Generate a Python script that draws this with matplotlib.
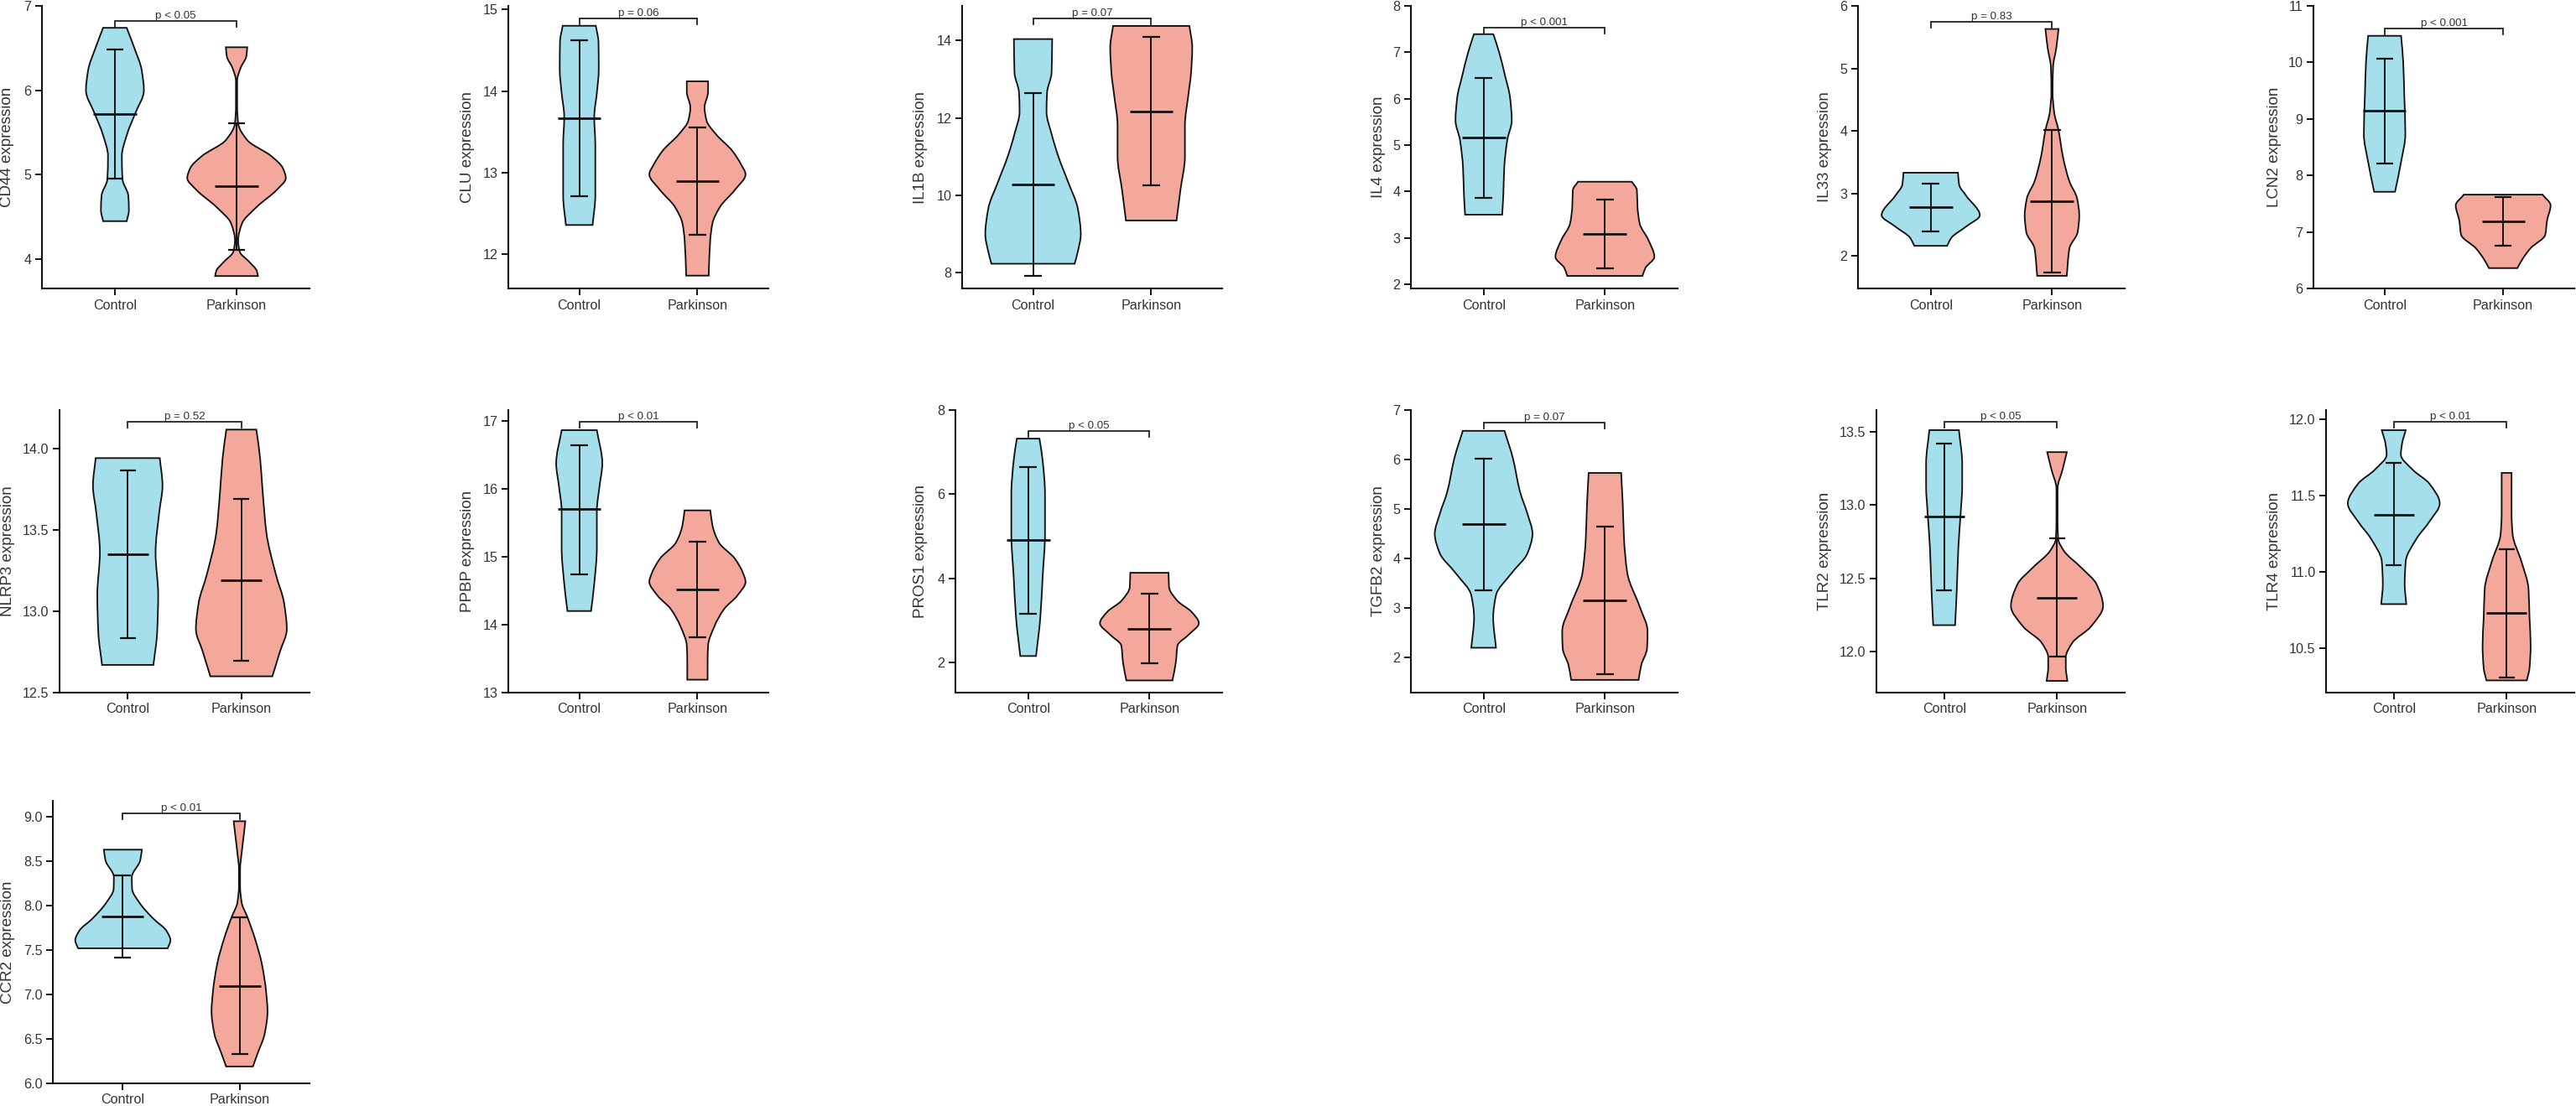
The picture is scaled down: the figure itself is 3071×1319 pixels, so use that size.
import numpy as np
import matplotlib
matplotlib.use("Agg")
import matplotlib.pyplot as plt
from matplotlib.path import Path
from matplotlib.patches import PathPatch

plt.rcParams['font.family'] = ['Liberation Sans', 'DejaVu Sans']

genes = ["CD44", "CLU", "IL1B", "IL4", "IL33", "LCN2", "NLRP3", "PPBP", "PROS1", "TGFB2", "TLR2", "TLR4", "CCR2"]
groups = ["Control", "Parkinson"]
p_labels = ["p < 0.05", "p = 0.06", "p = 0.07", "p < 0.001", "p = 0.83", "p < 0.001", "p = 0.52",
            "p < 0.01", "p < 0.05", "p = 0.07", "p < 0.05", "p < 0.01", "p < 0.01"]
bracket_y = [6.825, 14.894, 14.58, 7.537, 5.75, 10.595, 14.163, 16.98, 7.508, 6.75, 13.567, 11.985, 9.04]

# mean and +/- sd bars
ctrl_mean = [5.72, 13.67, 10.28, 5.16, 2.777, 9.14, 13.35, 15.695, 4.9, 4.69, 12.92, 11.377, 7.88]
ctrl_hi = [6.48, 14.62, 12.65, 6.454, 3.156, 10.06, 13.866, 16.64, 6.65, 6.017, 13.418, 11.714, 8.34]
ctrl_lo = [4.95, 12.71, 7.916, 3.863, 2.393, 8.21, 12.835, 14.74, 3.15, 3.36, 12.42, 11.044, 7.42]
park_mean = [4.86, 12.895, 12.17, 3.087, 2.87, 7.185, 13.19, 14.514, 2.8, 3.158, 12.368, 10.73, 7.094]
park_hi = [5.61, 13.555, 14.09, 3.827, 4.018, 7.61, 13.69, 15.214, 3.63, 4.65, 12.77, 11.148, 7.87]
park_lo = [4.11, 12.236, 10.26, 2.34, 1.73, 6.755, 12.694, 13.815, 1.98, 1.67, 11.967, 10.31, 6.327]

# violin outlines, value and half width
cd44_c_y = [6.74, 6.5, 6.24, 6.0, 5.72, 5.48, 5.22, 4.95, 4.75, 4.58, 4.45]
cd44_c_w = [.097, .16, .22, .238, .165, .10, .057, .062, .11, .115, .097]
cd44_p_y = [6.51, 6.4, 6.27, 6.11, 5.81, 5.61, 5.41, 5.22, 5.08, 4.96, 4.82, 4.62, 4.42, 4.22, 4.09, 3.96, 3.86, 3.80]
cd44_p_w = [.088, .08, .035, .005, .005, .013, .088, .286, .38, .405, .33, .167, .044, .013, .026, .11, .167, .176]
clu_c_y = [14.8, 14.6, 14.26, 13.99, 13.68, 13.34, 12.99, 12.72, 12.36]
clu_c_w = [.14, .163, .165, .15, .127, .136, .136, .136, .113]
clu_p_y = [14.12, 13.99, 13.8, 13.64, 13.47, 13.27, 13.1, 12.98, 12.79, 12.58, 12.38, 12.17, 11.74]
clu_p_w = [.09, .09, .06, .077, .158, .294, .37, .407, .317, .19, .127, .108, .095]
il1b_c_y = [14.04, 13.17, 12.66, 12.16, 11.58, 11.0, 10.35, 9.63, 8.98, 8.55, 8.22]
il1b_c_w = [.162, .157, .119, .114, .157, .214, .295, .38, .404, .38, .352]
il1b_p_y = [14.38, 13.82, 13.17, 12.59, 11.8, 11.0, 10.13, 9.34]
il1b_p_w = [.323, .347, .337, .314, .285, .285, .247, .214]
il4_c_y = [7.39, 6.98, 6.5, 6.02, 5.53, 5.11, 4.51, 3.91, 3.5]
il4_c_w = [.08, .13, .176, .218, .232, .195, .17, .162, .153]
il4_p_y = [4.21, 4.03, 3.67, 3.31, 2.95, 2.59, 2.35, 2.18]
il4_p_w = [.222, .264, .269, .287, .36, .408, .334, .31]
il33_c_y = [3.33, 3.14, 2.96, 2.65, 2.47, 2.29, 2.16]
il33_c_w = [.225, .234, .293, .405, .293, .171, .135]
il33_p_y = [5.63, 5.33, 5.02, 4.62, 4.3, 4.01, 3.59, 3.19, 2.92, 2.65, 2.38, 2.12, 1.68]
il33_p_w = [.054, .036, .009, .005, .018, .054, .09, .144, .207, .225, .212, .144, .122]
lcn2_c_y = [10.47, 10.0, 9.42, 8.73, 8.24, 7.71]
lcn2_c_w = [.139, .157, .166, .175, .139, .088]
lcn2_p_y = [7.66, 7.47, 7.2, 6.95, 6.71, 6.51, 6.36]
lcn2_p_w = [.332, .40, .37, .355, .23, .16, .12]
nlrp3_c_y = [13.94, 13.77, 13.61, 13.36, 13.1, 12.87, 12.67]
nlrp3_c_w = [.282, .306, .278, .245, .268, .259, .226]
nlrp3_p_y = [14.115, 13.94, 13.73, 13.48, 13.22, 13.05, 12.89, 12.75, 12.6]
nlrp3_p_w = [.132, .165, .188, .221, .306, .376, .40, .339, .273]
ppbp_c_y = [16.86, 16.37, 16.04, 15.67, 15.13, 14.6, 14.2]
ppbp_c_w = [.149, .195, .172, .149, .149, .127, .10]
ppbp_p_y = [15.68, 15.46, 15.21, 14.97, 14.76, 14.63, 14.43, 14.23, 13.98, 13.69, 13.44, 13.19]
ppbp_p_w = [.109, .127, .181, .317, .385, .407, .339, .226, .145, .09, .086, .086]
pros1_c_y = [7.32, 6.79, 5.99, 5.06, 4.06, 3.06, 2.15]
pros1_c_w = [.093, .12, .139, .139, .12, .10, .065]
pros1_p_y = [4.13, 3.79, 3.46, 3.2, 2.93, 2.66, 2.4, 2.0, 1.57]
pros1_p_w = [.158, .162, .232, .348, .408, .325, .232, .218, .19]
tgfb2_c_y = [6.58, 6.03, 5.35, 4.9, 4.5, 4.11, 3.71, 3.26, 2.81, 2.2]
tgfb2_c_w = [.172, .241, .30, .362, .403, .362, .232, .102, .079, .102]
tgfb2_p_y = [5.73, 5.07, 4.39, 3.71, 3.03, 2.53, 2.19, 1.85, 1.55]
tgfb2_p_w = [.134, .148, .158, .185, .287, .352, .348, .30, .278]
tlr2_c_y = [13.51, 13.28, 13.13, 12.94, 12.71, 12.42, 12.18]
tlr2_c_w = [.131, .16, .16, .146, .126, .112, .097]
tlr2_p_y = [13.36, 13.24, 13.11, 12.9, 12.77, 12.69, 12.57, 12.46, 12.31, 12.17, 12.06, 11.96, 11.89, 11.8]
tlr2_p_w = [.087, .049, .005, .005, .01, .058, .218, .35, .408, .30, .136, .078, .078, .092]
tlr4_c_y = [11.93, 11.84, 11.77, 11.67, 11.58, 11.45, 11.33, 11.22, 11.07, 10.92, 10.79]
tlr4_c_w = [.106, .073, .063, .169, .315, .407, .315, .203, .106, .097, .111]
tlr4_p_y = [11.65, 11.53, 11.38, 11.25, 11.07, 10.89, 10.7, 10.52, 10.37, 10.29]
tlr4_p_w = [.044, .044, .044, .053, .131, .194, .203, .213, .203, .179]
ccr2_c_y = [8.63, 8.51, 8.32, 8.19, 8.03, 7.85, 7.72, 7.61, 7.52]
ccr2_c_w = [.163, .149, .077, .079, .144, .264, .372, .408, .384]
ccr2_p_y = [8.95, 8.79, 8.6, 8.41, 8.22, 8.03, 7.88, 7.63, 7.34, 7.03, 6.81, 6.56, 6.34, 6.19]
ccr2_p_w = [.05, .036, .019, .005, .005, .019, .065, .132, .192, .228, .24, .216, .156, .115]

ctrl_violins = [(cd44_c_y, cd44_c_w), (clu_c_y, clu_c_w), (il1b_c_y, il1b_c_w), (il4_c_y, il4_c_w),
                (il33_c_y, il33_c_w), (lcn2_c_y, lcn2_c_w), (nlrp3_c_y, nlrp3_c_w), (ppbp_c_y, ppbp_c_w),
                (pros1_c_y, pros1_c_w), (tgfb2_c_y, tgfb2_c_w), (tlr2_c_y, tlr2_c_w), (tlr4_c_y, tlr4_c_w),
                (ccr2_c_y, ccr2_c_w)]
park_violins = [(cd44_p_y, cd44_p_w), (clu_p_y, clu_p_w), (il1b_p_y, il1b_p_w), (il4_p_y, il4_p_w),
                (il33_p_y, il33_p_w), (lcn2_p_y, lcn2_p_w), (nlrp3_p_y, nlrp3_p_w), (ppbp_p_y, ppbp_p_w),
                (pros1_p_y, pros1_p_w), (tgfb2_p_y, tgfb2_p_w), (tlr2_p_y, tlr2_p_w), (tlr4_p_y, tlr4_p_w),
                (ccr2_p_y, ccr2_p_w)]

y_ticks = [[4, 5, 6, 7], [12, 13, 14, 15], [8, 10, 12, 14], [2, 3, 4, 5, 6, 7, 8], [2, 3, 4, 5, 6],
           [6, 7, 8, 9, 10, 11], [12.5, 13.0, 13.5, 14.0], [13, 14, 15, 16, 17], [2, 4, 6, 8],
           [2, 3, 4, 5, 6, 7], [12.0, 12.5, 13.0, 13.5], [10.5, 11.0, 11.5, 12.0],
           [6.0, 6.5, 7.0, 7.5, 8.0, 8.5, 9.0]]
y_low = [3.653, 11.583, 7.58, 1.91, 1.478, 6, 12.5, 13, 1.28, 1.294, 11.72, 10.21, 6]
y_high = [7, 15.044, 14.9, 8, 6, 11, 14.235, 17.156, 8, 7, 13.647, 12.062, 9.18]

# layout in reference pixels
W, H = 3071, 1319
ax_left = [50, 606, 1147, 1682, 2215, 2758, 71, 606, 1139, 1682, 2237, 2773, 63]
ax_right = [369, 916, 1457, 2000, 2533, 3069, 369, 916, 1457, 2000, 2533, 3069, 369]
ax_top = [7] * 6 + [489] * 6 + [955]
ax_bottom = [344] * 6 + [826] * 6 + [1292]
label_x = [9, 557, 1098, 1643, 2176, 2711, 9, 557, 1098, 1643, 2176, 2711, 9]

blue = "#A6DFEC"
salmon = "#F4A79B"
ink = "#111111"
grey = "#333333"


def side_curve(y, w, sign):
    # cubic pieces through the read points, slopes limited so nothing overshoots
    y = np.asarray(y, float)
    w = np.asarray(w, float)
    h = np.diff(y)
    d = np.diff(w) / h
    m = np.zeros_like(w)
    m[0], m[-1] = d[0], d[-1]
    for i in range(1, len(w) - 1):
        if d[i - 1] * d[i] > 0:
            a, b = 2 * h[i] + h[i - 1], h[i] + 2 * h[i - 1]
            m[i] = (a + b) / (a / d[i - 1] + b / d[i])
    verts = [(sign * w[0], y[0])]
    for i in range(len(h)):
        verts.append((sign * (w[i] + m[i] * h[i] / 3), y[i] + h[i] / 3))
        verts.append((sign * (w[i + 1] - m[i + 1] * h[i] / 3), y[i + 1] - h[i] / 3))
        verts.append((sign * w[i + 1], y[i + 1]))
    return verts


def draw_violin(ax, x, y, w, colour):
    right = side_curve(y, w, 1)
    left = side_curve(y[::-1], w[::-1], -1)
    verts = right + left + [right[0]]
    codes = [Path.MOVETO] + [Path.CURVE4] * (len(right) - 1) + [Path.LINETO] + \
            [Path.CURVE4] * (len(left) - 1) + [Path.CLOSEPOLY]
    verts = [(x + a, b) for a, b in verts]
    ax.add_patch(PathPatch(Path(verts, codes), fc=colour, ec=ink, lw=1.35, joinstyle="miter", zorder=2))


def draw_stats(ax, x, mean, hi, lo):
    ax.plot([x, x], [lo, hi], color=ink, lw=1.4, zorder=3, solid_capstyle="butt")
    ax.plot([x - .072, x + .072], [hi, hi], color=ink, lw=1.6, zorder=3, solid_capstyle="butt")
    ax.plot([x - .072, x + .072], [lo, lo], color=ink, lw=1.6, zorder=3, solid_capstyle="butt")
    ax.plot([x - .18, x + .18], [mean, mean], color=ink, lw=2.0, zorder=3, solid_capstyle="butt")


fig = plt.figure(figsize=(W / 100, H / 100), dpi=100, facecolor="white")

for i, gene in enumerate(genes):
    l, r, t, b = ax_left[i], ax_right[i], ax_top[i], ax_bottom[i]
    ax = fig.add_axes([l / W, 1 - b / H, (r - l) / W, (b - t) / H])
    ax.set_xlim(0.4, 2.6)
    ax.set_ylim(y_low[i], y_high[i])

    draw_violin(ax, 1, ctrl_violins[i][0], ctrl_violins[i][1], blue)
    draw_violin(ax, 2, park_violins[i][0], park_violins[i][1], salmon)
    draw_stats(ax, 1, ctrl_mean[i], ctrl_hi[i], ctrl_lo[i])
    draw_stats(ax, 2, park_mean[i], park_hi[i], park_lo[i])

    tip = 7 / (b - t) * (y_high[i] - y_low[i])
    ax.plot([1, 1, 2, 2], [bracket_y[i] - tip, bracket_y[i], bracket_y[i], bracket_y[i] - tip],
            color="#222222", lw=1.3, zorder=4, clip_on=False, solid_joinstyle="miter")
    ax.annotate(p_labels[i], (1.5, bracket_y[i]), xytext=(0, 2.2), textcoords="offset points",
                ha="center", va="baseline", fontsize=9.6, color=grey, annotation_clip=False)

    ax.set_xticks([1, 2])
    ax.set_xticklabels(groups)
    ax.set_yticks(y_ticks[i])
    ax.tick_params(axis="both", length=5.5, width=1.4, labelsize=11.6, color=ink, labelcolor=grey, pad=3.5)
    ax.set_ylabel(gene + " expression", fontsize=13.5, color=grey, va="center", ha="center")
    ax.yaxis.set_label_coords((label_x[i] - l) / (r - l), 0.5)

    ax.spines["top"].set_visible(False)
    ax.spines["right"].set_visible(False)
    ax.spines["left"].set_linewidth(1.5)
    ax.spines["bottom"].set_linewidth(1.5)
    ax.spines["left"].set_color(ink)
    ax.spines["bottom"].set_color(ink)

fig.savefig("out.png", dpi=100)
